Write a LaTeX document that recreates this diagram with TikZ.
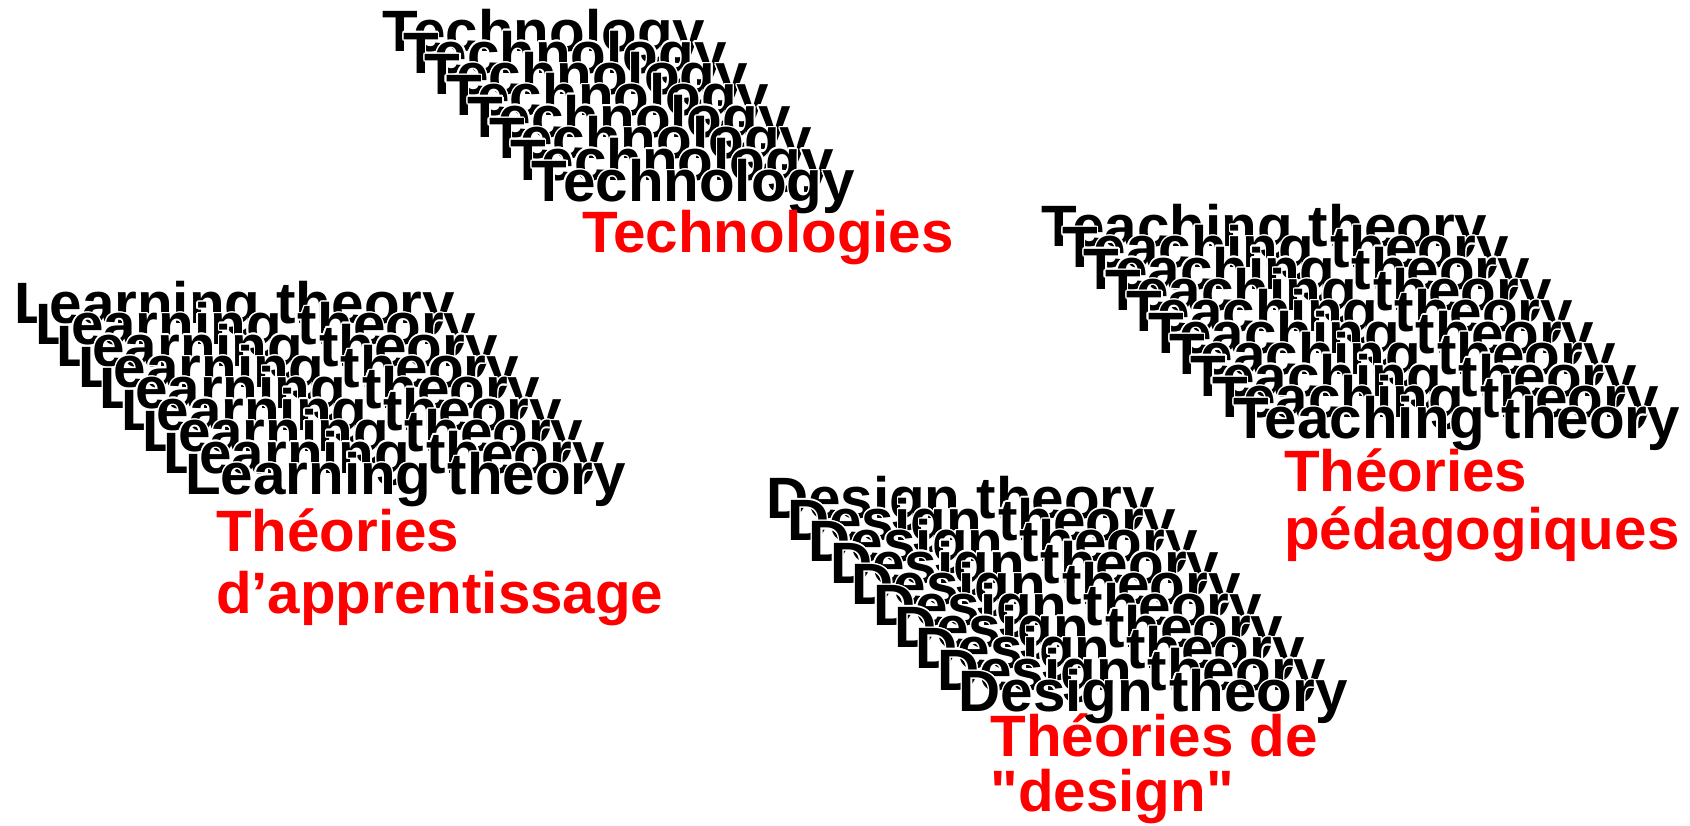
\documentclass[tikz,border=0pt]{standalone}
\usepackage{fontspec}
\setmainfont{Liberation Sans}[Ligatures=TeXOff]
\usepackage[copies]{contour}
\contourlength{0.4pt}
\definecolor{thRed}{HTML}{FF0000}
\tikzset{
 echo/.style={anchor=base west,inner sep=0pt,outer sep=0pt,text=black,
   font=\fontsize{16.6pt}{19pt}\selectfont\bfseries},
 theme/.style={echo,text=thRed,align=left,
   font=\fontsize{16.6pt}{#1}\selectfont\bfseries},
 theme/.default=17pt
}
% name, last index, x, y, word
\newcommand{\echoStack}[5]{%
 \foreach \k in {0,...,#2} {\node[echo] (#1\k) at ({#3+21.4*\k},{#4+21.4*\k}) {\contour{white}{#5}};}}

\begin{document}
\begin{tikzpicture}[x=0.1mm,y=-0.1mm]
 \useasboundingbox (0,0) rectangle (1690,826);
 \echoStack{tech}{7}{382}{51.7}{Technology}
 \echoStack{learn}{8}{14}{323.3}{Learning theory}
 \echoStack{teach}{9}{1041}{246.4}{Teaching theory}
 \echoStack{design}{9}{766}{519}{Design theory}
 \node[theme] (techLbl) at (582,252.7) {Technologies};
 \node[theme=17.5pt] (learnLbl) at (216,613.3) {Théories\\d’apprentissage};
 \node[theme=16.5pt] (teachLbl) at (1284,549.7) {Théories\\pédagogiques};
 \node[theme=15.7pt] (designLbl) at (990.5,811.9) {Théories de\\"design"};
\end{tikzpicture}
\end{document}
